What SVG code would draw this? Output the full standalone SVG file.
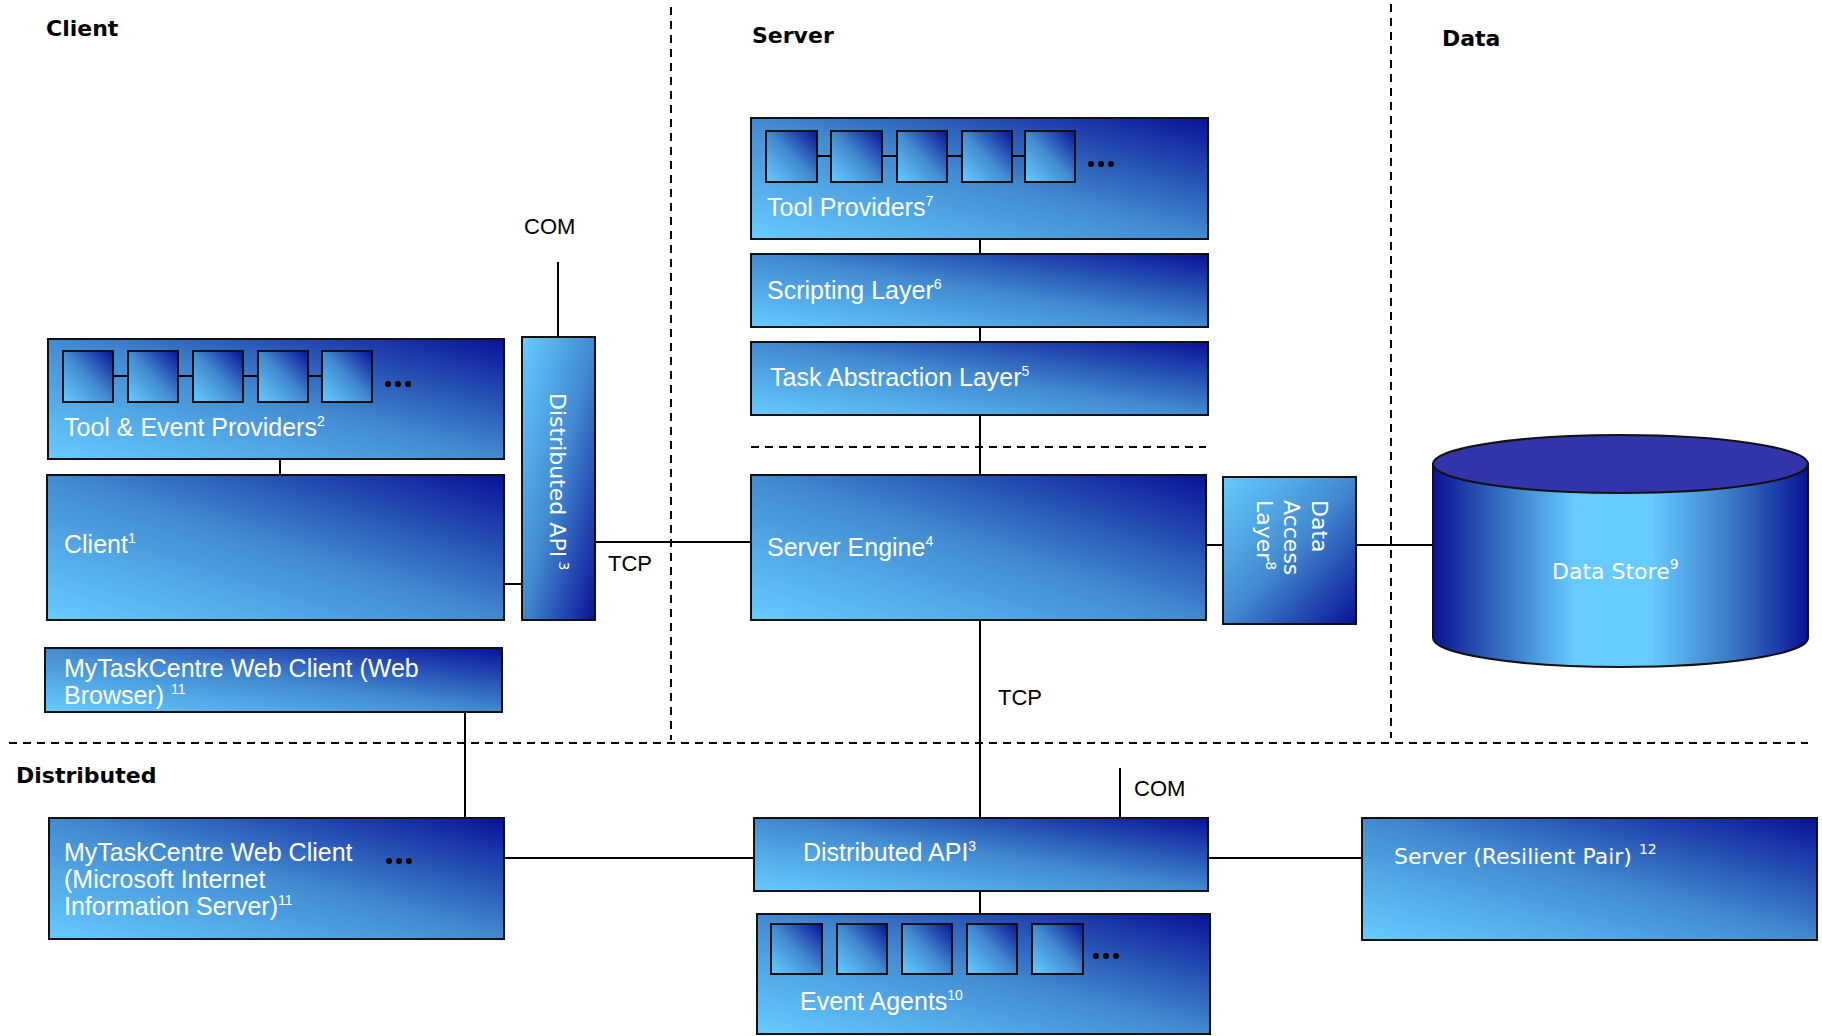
<svg xmlns="http://www.w3.org/2000/svg" width="1822" height="1036" viewBox="0 0 1822 1036">
<style>
.box{stroke:#111;stroke-width:2}
.h{fill:url(#gH)}
.v{fill:url(#gV)}
.ln{stroke:#000;stroke-width:2;fill:none}
.dash{stroke:#000;stroke-width:2;stroke-dasharray:8 6;fill:none}
.t{font-family:"Liberation Sans",Arial,sans-serif;font-size:25px;fill:#fff}
.vt{font-family:"DejaVu Sans",Verdana,sans-serif;font-size:22px;fill:#fff}
.title{font-family:"DejaVu Sans",Verdana,sans-serif;font-weight:bold;font-size:22px;fill:#000}
.lbl{font-family:"Liberation Sans",Arial,sans-serif;font-size:22px;fill:#000}
.sup{font-size:14px}
.dot{fill:#000}
</style>
<defs>
<linearGradient id="gH" x1="0" y1="1" x2="1" y2="0">
<stop offset="0" stop-color="#66CCFF"/>
<stop offset="0.5" stop-color="#428AD0"/>
<stop offset="1" stop-color="#0A1296"/>
</linearGradient>
<linearGradient id="gV" x1="0" y1="0" x2="1" y2="1">
<stop offset="0" stop-color="#66CCFF"/>
<stop offset="0.5" stop-color="#428AD0"/>
<stop offset="1" stop-color="#0A1296"/>
</linearGradient>
<linearGradient id="gCyl" x1="0" y1="0" x2="1" y2="0">
<stop offset="0" stop-color="#0A1296"/>
<stop offset="0.2" stop-color="#3A78C4"/>
<stop offset="0.38" stop-color="#66CCFF"/>
<stop offset="0.58" stop-color="#66CCFF"/>
<stop offset="0.8" stop-color="#3A78C4"/>
<stop offset="1" stop-color="#0A1296"/>
</linearGradient>
</defs>
<rect width="1822" height="1036" fill="#fff"/>

<g id="separators">
<line class="dash" x1="671" y1="7" x2="671" y2="740"/>
<line class="dash" x1="1391" y1="4" x2="1391" y2="738"/>
<line class="dash" x1="9" y1="743" x2="1808" y2="743"/>
<line class="dash" x1="751" y1="447" x2="1206" y2="447"/>
</g>

<g id="titles">
<text class="title" x="46" y="36">Client</text>
<text class="title" x="752" y="43">Server</text>
<text class="title" x="1442" y="46">Data</text>
<text class="title" x="16" y="783">Distributed</text>
</g>

<g id="connectors">
<line class="ln" x1="280" y1="459" x2="280" y2="475"/>
<line class="ln" x1="504" y1="584" x2="522" y2="584"/>
<line class="ln" x1="558" y1="262" x2="558" y2="337"/>
<line class="ln" x1="595" y1="542" x2="751" y2="542"/>
<line class="ln" x1="980" y1="239" x2="980" y2="254"/>
<line class="ln" x1="980" y1="327" x2="980" y2="342"/>
<line class="ln" x1="980" y1="415" x2="980" y2="475"/>
<line class="ln" x1="1206" y1="545" x2="1223" y2="545"/>
<line class="ln" x1="1356" y1="545" x2="1433" y2="545"/>
<line class="ln" x1="980" y1="620" x2="980" y2="818"/>
<line class="ln" x1="1120" y1="768" x2="1120" y2="818"/>
<line class="ln" x1="465" y1="712" x2="465" y2="818"/>
<line class="ln" x1="504" y1="858" x2="754" y2="858"/>
<line class="ln" x1="1208" y1="858" x2="1362" y2="858"/>
<line class="ln" x1="980" y1="891" x2="980" y2="914"/>
<text class="lbl" x="524" y="234">COM</text>
<text class="lbl" x="608" y="571">TCP</text>
<text class="lbl" x="998" y="705">TCP</text>
<text class="lbl" x="1134" y="796">COM</text>
</g>

<g id="tool-event-providers">
<rect class="box h" x="48" y="339" width="456" height="120"/>
<line class="ln" x1="113" y1="376" x2="128" y2="376"/>
<line class="ln" x1="178" y1="376" x2="193" y2="376"/>
<line class="ln" x1="243" y1="376" x2="258" y2="376"/>
<line class="ln" x1="308" y1="376" x2="322" y2="376"/>
<rect class="box h" x="63" y="351" width="50" height="51"/>
<rect class="box h" x="128" y="351" width="50" height="51"/>
<rect class="box h" x="193" y="351" width="50" height="51"/>
<rect class="box h" x="258" y="351" width="50" height="51"/>
<rect class="box h" x="322" y="351" width="50" height="51"/>
<circle class="dot" cx="388" cy="384" r="3"/><circle class="dot" cx="398" cy="384" r="3"/><circle class="dot" cx="408" cy="384" r="3"/>
<text class="t" x="64" y="436">Tool &amp; Event Providers<tspan class="sup" dy="-10">2</tspan></text>
</g>

<g id="client">
<rect class="box h" x="47" y="475" width="457" height="145"/>
<text class="t" x="64" y="553">Client<tspan class="sup" dy="-10">1</tspan></text>
</g>

<g id="distributed-api-client">
<rect class="box v" x="522" y="337" width="73" height="283"/>
<text class="vt" transform="translate(550,393) rotate(90)">Distributed API<tspan class="sup" dy="-9"> 3</tspan></text>
</g>

<g id="web-browser-client">
<rect class="box h" x="45" y="648" width="457" height="64"/>
<text class="t" x="64" y="677">MyTaskCentre Web Client (Web</text>
<text class="t" x="64" y="704">Browser) <tspan class="sup" dy="-10">11</tspan></text>
</g>

<g id="tool-providers">
<rect class="box h" x="751" y="118" width="457" height="121"/>
<line class="ln" x1="817" y1="156" x2="831" y2="156"/>
<line class="ln" x1="882" y1="156" x2="897" y2="156"/>
<line class="ln" x1="947" y1="156" x2="962" y2="156"/>
<line class="ln" x1="1012" y1="156" x2="1025" y2="156"/>
<rect class="box h" x="766" y="131" width="51" height="51"/>
<rect class="box h" x="831" y="131" width="51" height="51"/>
<rect class="box h" x="897" y="131" width="50" height="51"/>
<rect class="box h" x="962" y="131" width="50" height="51"/>
<rect class="box h" x="1025" y="131" width="50" height="51"/>
<circle class="dot" cx="1091" cy="164" r="3"/><circle class="dot" cx="1101" cy="164" r="3"/><circle class="dot" cx="1111" cy="164" r="3"/>
<text class="t" x="767" y="216">Tool Providers<tspan class="sup" dy="-10">7</tspan></text>
</g>

<g id="scripting-layer">
<rect class="box h" x="751" y="254" width="457" height="73"/>
<text class="t" x="767" y="299">Scripting Layer<tspan class="sup" dy="-10">6</tspan></text>
</g>

<g id="task-abstraction-layer">
<rect class="box h" x="751" y="342" width="457" height="73"/>
<text class="t" x="770" y="386">Task Abstraction Layer<tspan class="sup" dy="-10">5</tspan></text>
</g>

<g id="server-engine">
<rect class="box h" x="751" y="475" width="455" height="145"/>
<text class="t" x="767" y="556">Server Engine<tspan class="sup" dy="-10">4</tspan></text>
</g>

<g id="data-access-layer">
<rect class="box v" x="1223" y="477" width="133" height="147"/>
<text class="vt" transform="translate(1312,500) rotate(90)">Data</text>
<text class="vt" transform="translate(1284,500) rotate(90)">Access</text>
<text class="vt" transform="translate(1257,500) rotate(90)">Layer<tspan class="sup" dy="-9">8</tspan></text>
</g>

<g id="data-store">
<path d="M1433,464 L1433,638 A187.5,29 0 0 0 1808,638 L1808,464 Z" fill="url(#gCyl)" stroke="#111" stroke-width="2"/>
<ellipse cx="1620.5" cy="464" rx="187.5" ry="29" fill="#3333AA" stroke="#111" stroke-width="2"/>
<text class="vt" x="1552" y="579">Data Store<tspan class="sup" dy="-10">9</tspan></text>
</g>

<g id="web-client-iis">
<rect class="box h" x="49" y="818" width="455" height="121"/>
<text class="t" x="64" y="861">MyTaskCentre Web Client</text>
<text class="t" x="64" y="888">(Microsoft Internet</text>
<text class="t" x="64" y="915">Information Server)<tspan class="sup" dy="-10">11</tspan></text>
<circle class="dot" cx="389" cy="861" r="3"/><circle class="dot" cx="399" cy="861" r="3"/><circle class="dot" cx="409" cy="861" r="3"/>
</g>

<g id="distributed-api">
<rect class="box h" x="754" y="818" width="454" height="73"/>
<text class="t" x="803" y="861">Distributed API<tspan class="sup" dy="-10">3</tspan></text>
</g>

<g id="event-agents">
<rect class="box h" x="757" y="914" width="453" height="120"/>
<rect class="box h" x="771" y="924" width="51" height="50"/>
<rect class="box h" x="837" y="924" width="50" height="50"/>
<rect class="box h" x="902" y="924" width="50" height="50"/>
<rect class="box h" x="967" y="924" width="50" height="50"/>
<rect class="box h" x="1032" y="924" width="51" height="50"/>
<circle class="dot" cx="1096" cy="956" r="3"/><circle class="dot" cx="1106" cy="956" r="3"/><circle class="dot" cx="1116" cy="956" r="3"/>
<text class="t" x="800" y="1010">Event Agents<tspan class="sup" dy="-10">10</tspan></text>
</g>

<g id="server-resilient-pair">
<rect class="box h" x="1362" y="818" width="455" height="122"/>
<text class="vt" x="1394" y="864">Server (Resilient Pair) <tspan class="sup" dy="-10">12</tspan></text>
</g>
</svg>
